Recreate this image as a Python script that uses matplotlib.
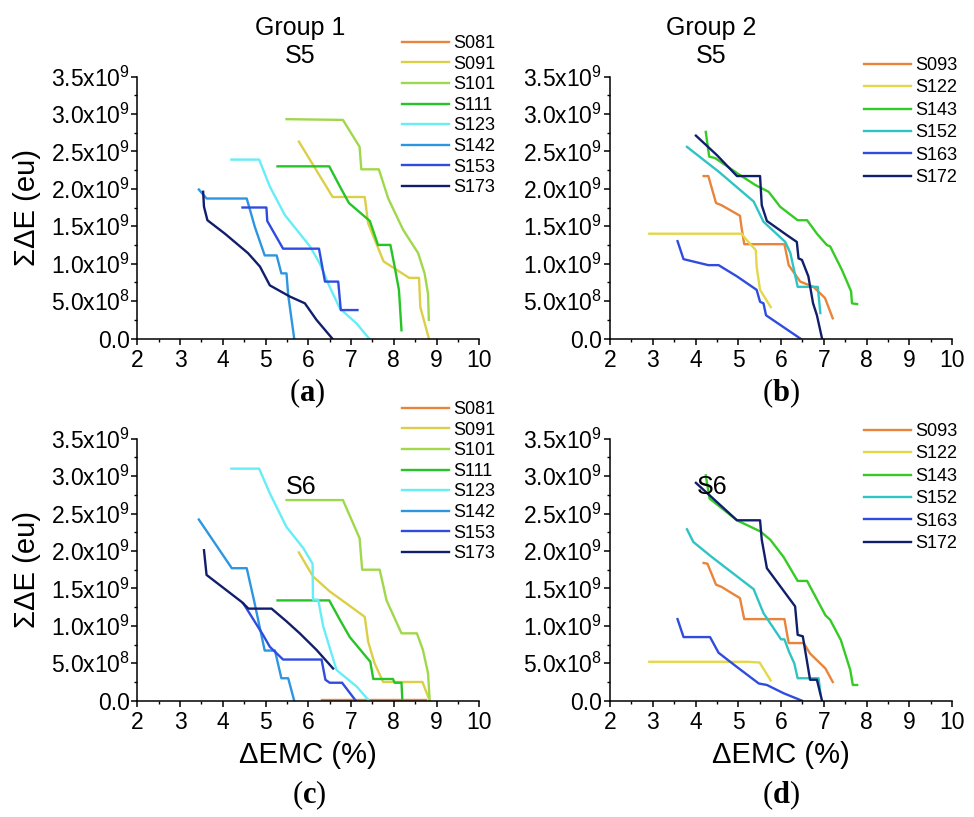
import matplotlib
matplotlib.use('Agg')
import matplotlib.pyplot as plt
from matplotlib.ticker import MultipleLocator

plt.rcParams['font.family'] = 'Liberation Sans'
plt.rcParams['mathtext.fontset'] = 'custom'
plt.rcParams['mathtext.rm'] = 'Liberation Sans'
plt.rcParams['mathtext.bf'] = 'Liberation Serif:bold'

# Group 1 samples, S5 stage (x = dEMC %, y = sum dE in 1e9 eu)
g1_names = ['S081', 'S091', 'S101', 'S111', 'S123', 'S142', 'S153', 'S173']
g1_s5 = {
    'S081': ([], []),
    'S091': ([5.78, 6.57, 7.32, 7.40, 7.76, 8.06, 8.36, 8.59, 8.62, 8.82],
             [2.63, 1.89, 1.89, 1.54, 1.03, 0.92, 0.81, 0.81, 0.42, 0.0]),
    'S101': ([5.49, 6.81, 7.20, 7.24, 7.65, 7.87, 8.22, 8.57, 8.72, 8.80, 8.82],
             [2.93, 2.92, 2.56, 2.26, 2.26, 1.87, 1.45, 1.14, 0.87, 0.60, 0.25]),
    'S111': ([5.28, 6.49, 6.74, 6.95, 7.44, 7.63, 7.92, 8.02, 8.12, 8.18],
             [2.30, 2.30, 2.03, 1.81, 1.57, 1.25, 1.25, 0.96, 0.65, 0.11]),
    'S123': ([4.20, 4.85, 5.10, 5.45, 6.04, 6.27, 6.50, 6.74, 7.13, 7.42],
             [2.39, 2.39, 2.03, 1.65, 1.23, 1.00, 0.69, 0.40, 0.20, 0.0]),
    'S142': ([3.44, 3.62, 4.56, 4.75, 4.98, 5.26, 5.37, 5.49, 5.53, 5.67],
             [1.99, 1.87, 1.87, 1.49, 1.11, 1.11, 0.87, 0.87, 0.58, 0.0]),
    'S153': ([4.46, 5.02, 5.04, 5.41, 6.25, 6.39, 6.70, 6.76, 7.15],
             [1.75, 1.75, 1.57, 1.20, 1.20, 0.76, 0.76, 0.38, 0.38]),
    'S173': ([3.54, 3.56, 3.64, 4.05, 4.59, 4.87, 5.10, 5.57, 5.92, 6.19, 6.56],
             [1.96, 1.76, 1.58, 1.40, 1.14, 0.96, 0.71, 0.56, 0.47, 0.25, 0.0]),
}

# Group 1 samples, S6 stage
g1_s6 = {
    'S081': ([6.31, 8.76], [0.005, 0.005]),
    'S091': ([5.78, 6.11, 6.50, 6.89, 7.32, 7.40, 7.55, 7.75, 8.67, 8.84],
             [1.98, 1.66, 1.46, 1.30, 1.12, 0.79, 0.50, 0.25, 0.25, 0.0]),
    'S101': ([5.49, 6.81, 7.20, 7.26, 7.67, 7.83, 8.18, 8.54, 8.68, 8.80, 8.84],
             [2.68, 2.68, 2.17, 1.75, 1.75, 1.34, 0.90, 0.90, 0.68, 0.37, 0.0]),
    'S111': ([5.28, 6.49, 6.74, 6.97, 7.45, 7.52, 7.98, 8.02, 8.18, 8.20],
             [1.34, 1.34, 1.08, 0.85, 0.52, 0.29, 0.29, 0.24, 0.24, 0.0]),
    'S123': ([4.20, 4.85, 5.10, 5.49, 5.88, 6.10, 6.11, 6.23, 6.35, 6.66, 7.13, 7.42],
             [3.10, 3.10, 2.77, 2.32, 2.04, 1.83, 1.35, 1.35, 0.99, 0.41, 0.19, 0.0]),
    'S142': ([3.44, 4.21, 4.56, 4.73, 4.98, 5.22, 5.37, 5.53, 5.67],
             [2.42, 1.77, 1.77, 1.34, 0.67, 0.67, 0.30, 0.30, 0.0]),
    'S153': ([4.48, 4.94, 5.10, 5.41, 6.31, 6.40, 6.50, 6.79, 7.11],
             [1.30, 0.88, 0.72, 0.55, 0.55, 0.28, 0.24, 0.24, 0.0]),
    'S173': ([3.56, 3.62, 4.44, 4.60, 5.14, 5.49, 5.80, 6.19, 6.58],
             [2.01, 1.68, 1.32, 1.23, 1.23, 1.06, 0.90, 0.68, 0.43]),
}

# Group 2 samples, S5 stage
g2_names = ['S093', 'S122', 'S143', 'S152', 'S163', 'S172']
g2_s5 = {
    'S093': ([4.19, 4.30, 4.48, 4.61, 5.04, 5.08, 5.14, 6.08, 6.18, 6.45, 6.76, 7.03, 7.21],
             [2.17, 2.17, 1.81, 1.78, 1.64, 1.47, 1.26, 1.26, 0.98, 0.76, 0.69, 0.54, 0.27]),
    'S122': ([2.92, 5.08, 5.16, 5.41, 5.43, 5.51, 5.76],
             [1.40, 1.40, 1.34, 1.18, 0.96, 0.65, 0.42]),
    'S143': ([4.24, 4.32, 4.46, 4.97, 5.40, 5.71, 5.98, 6.39, 6.61, 6.84, 7.07, 7.15,
              7.43, 7.64, 7.66, 7.78],
             [2.76, 2.43, 2.41, 2.21, 2.05, 1.96, 1.76, 1.58, 1.58, 1.40, 1.25, 1.23,
              0.91, 0.63, 0.47, 0.46]),
    'S152': ([3.80, 4.54, 5.36, 5.59, 6.10, 6.22, 6.39, 6.86, 6.92],
             [2.56, 2.23, 1.83, 1.56, 1.29, 1.14, 0.69, 0.69, 0.34]),
    'S163': ([3.58, 3.72, 4.30, 4.54, 4.97, 5.43, 5.51, 5.59, 5.65, 6.45],
             [1.30, 1.06, 0.98, 0.98, 0.83, 0.65, 0.49, 0.47, 0.31, 0.0]),
    'S172': ([4.01, 4.50, 4.97, 5.51, 5.55, 5.67, 6.14, 6.37, 6.41, 6.49, 6.64, 6.75, 6.84, 6.96],
             [2.71, 2.45, 2.17, 2.17, 1.78, 1.57, 1.38, 1.29, 1.07, 1.05, 0.83, 0.47, 0.31, 0.0]),
}

# Group 2 samples, S6 stage
g2_s6 = {
    'S093': ([4.19, 4.28, 4.48, 4.61, 5.04, 5.14, 6.08, 6.18, 6.53, 6.68, 7.04, 7.21],
             [1.84, 1.83, 1.55, 1.52, 1.37, 1.09, 1.09, 0.77, 0.77, 0.63, 0.43, 0.25]),
    'S122': ([2.92, 5.20, 5.50, 5.76],
             [0.52, 0.52, 0.51, 0.27]),
    'S143': ([4.24, 4.33, 4.97, 5.52, 5.75, 6.06, 6.39, 6.61, 7.04, 7.15, 7.40, 7.62, 7.68, 7.78],
             [3.01, 2.70, 2.41, 2.26, 2.15, 1.92, 1.60, 1.60, 1.14, 1.08, 0.81, 0.41, 0.21, 0.21]),
    'S152': ([3.80, 3.95, 4.38, 5.36, 5.59, 6.00, 6.08, 6.19, 6.31, 6.39, 6.88, 6.92],
             [2.29, 2.12, 1.92, 1.49, 1.17, 0.82, 0.82, 0.65, 0.50, 0.30, 0.30, 0.10]),
    'S163': ([3.58, 3.72, 4.34, 4.54, 4.97, 5.48, 5.67, 6.06, 6.49],
             [1.09, 0.85, 0.85, 0.64, 0.45, 0.23, 0.21, 0.10, 0.0]),
    'S172': ([4.01, 4.97, 5.51, 5.55, 5.67, 6.33, 6.39, 6.51, 6.68, 6.84, 6.96],
             [2.91, 2.41, 2.41, 2.15, 1.77, 1.26, 0.88, 0.86, 0.28, 0.28, 0.0]),
}

ytick_vals = [0.0, 0.5, 1.0, 1.5, 2.0, 2.5, 3.0, 3.5]
ytick_labels = ['0.0', r'$\mathregular{5.0x10^{8}}$', r'$\mathregular{1.0x10^{9}}$',
                r'$\mathregular{1.5x10^{9}}$', r'$\mathregular{2.0x10^{9}}$',
                r'$\mathregular{2.5x10^{9}}$', r'$\mathregular{3.0x10^{9}}$',
                r'$\mathregular{3.5x10^{9}}$']
xtick_vals = [2, 3, 4, 5, 6, 7, 8, 9, 10]

colors = {
    'S081': '#E8843C', 'S091': '#DCCF48', 'S101': '#A0D84C', 'S111': '#26C426',
    'S123': '#66EEF6', 'S142': '#2C96E0', 'S153': '#2F4CDF', 'S173': '#101E6C',
    'S093': '#E8843C', 'S122': '#E2D84A', 'S143': '#34CC24', 'S152': '#2EC4C4',
    'S163': '#2F4CDF', 'S172': '#101E6C',
}

W, H = 974, 817
fig = plt.figure(figsize=(W / 100, H / 100), dpi=100)


def px(x, y):
    return x / W, 1 - y / H


def draw_panel(rect, series, names, leg_xy, leg_space, ylabel, xlabel):
    ax = fig.add_axes(rect)
    for name in names:
        xs, ys = series[name]
        ax.plot(xs, [v * 1e9 for v in ys], color=colors[name], lw=1.7, label=name)
    ax.set_xlim(2, 10)
    ax.set_ylim(0, 3.5e9)
    ax.set_xticks(xtick_vals)
    ax.set_yticks([v * 1e9 for v in ytick_vals])
    ax.set_yticklabels(ytick_labels)
    ax.xaxis.set_minor_locator(MultipleLocator(0.5))
    ax.yaxis.set_minor_locator(MultipleLocator(0.25e9))
    ax.spines['top'].set_visible(False)
    ax.spines['right'].set_visible(False)
    for s in ['left', 'bottom']:
        ax.spines[s].set_linewidth(1.1)
    ax.tick_params(which='major', direction='out', length=4.5, width=1.1,
                   labelsize=16.5)
    ax.tick_params(which='minor', direction='out', length=2.5, width=1.0)
    ax.tick_params(axis='y', pad=1)
    ax.tick_params(axis='x', pad=3)
    ax.patch.set_alpha(0)
    ax.legend(loc='upper left', bbox_to_anchor=px(*leg_xy),
              bbox_transform=fig.transFigure, frameon=False, fontsize=13,
              borderpad=0, borderaxespad=0, handlelength=2.6,
              handletextpad=0.25, labelspacing=leg_space)
    if ylabel:
        top = (1 - rect[1] - rect[3]) * H
        bot = (1 - rect[1]) * H
        fig.text(*px(27, (top + bot) / 2), 'ΣΔE (eu)', rotation=90,
                 ha='center', va='center', fontsize=21)
    if xlabel:
        cx = rect[0] + rect[2] / 2
        fig.text(cx, 1 - 755 / H, 'ΔEMC (%)', ha='center', va='center',
                 fontsize=21)
    return ax


w = 342 / W
h = 262 / H
rect_a = [137.3 / W, 1 - 338.5 / H, w, h]
rect_b = [610 / W, 1 - 338.5 / H, w, h]
rect_c = [137.3 / W, 1 - 700.7 / H, w, h]
rect_d = [610 / W, 1 - 700.7 / H, w, h]

draw_panel(rect_a, g1_s5, g1_names, (402, 35), 0.2, True, False)
draw_panel(rect_b, g2_s5, g2_names, (864, 57), 0.3, False, False)
draw_panel(rect_c, g1_s6, g1_names, (402, 401), 0.2, True, True)
draw_panel(rect_d, g2_s6, g2_names, (864, 423), 0.3, False, True)

# panel titles
fig.text(*px(300, 42), 'Group 1\nS5', ha='center', va='center', fontsize=18,
         linespacing=1.25)
fig.text(*px(711, 42), 'Group 2\nS5', ha='center', va='center', fontsize=18,
         linespacing=1.25)
fig.text(*px(301, 487), 'S6', ha='center', va='center', fontsize=18)
fig.text(*px(712, 487), 'S6', ha='center', va='center', fontsize=18)

# panel letters
for letter, (lx, ly) in zip('abcd', [(307, 393), (781, 393), (309, 795), (781, 795)]):
    fig.text(*px(lx, ly), r'($\mathbf{%s}$)' % letter, ha='center', va='center',
             fontsize=22, family='Liberation Serif')

fig.savefig('out.png', dpi=100)
